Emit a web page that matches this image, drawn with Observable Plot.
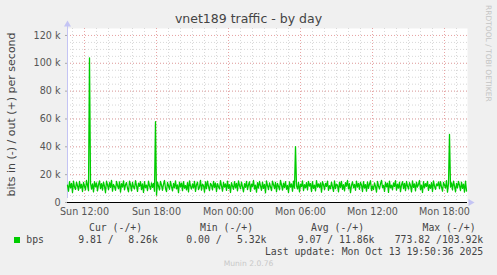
<!DOCTYPE html>
<html>
<head>
<meta charset="utf-8">
<script src="https://cdn.jsdelivr.net/npm/d3@7"></script>
<script src="https://cdn.jsdelivr.net/npm/@observablehq/plot@0.6"></script>
<style>
html, body { margin: 0; padding: 0; background: #f0f0f0; }
#wrap { position: relative; width: 497px; height: 275px; overflow: hidden; background: #f0f0f0; font-family: "DejaVu Sans", sans-serif; }
#wrap svg { position: absolute; left: 0; top: 0; }
.abs { position: absolute; white-space: pre; }
#title { left: 0; width: 497px; top: 11px; text-align: center; font-size: 12.5px; line-height: 16px; color: #444; }
#ylab { left: -89px; width: 200px; top: 108px; text-align: center; font-size: 11px; line-height: 13px; color: #444; transform: rotate(-90deg); transform-origin: 50% 50%; }
#wm { left: 484px; top: 5px; writing-mode: vertical-rl; font-size: 7.5px; line-height: 9px; color: #c4c4c4; }
.mono { font-family: "DejaVu Sans Mono", monospace; font-size: 9.8px; line-height: 12px; color: #444; }
#sq { left: 14px; top: 237px; width: 6px; height: 6px; background: #00cc00; }
#munin { left: 0; width: 497px; top: 259px; text-align: center; font-size: 7.6px; line-height: 10px; color: #c8c8c8; }
</style>
</head>
<body>
<div id="wrap">
  <div id="chart"></div>
</div>
<script>
// ---- data (values in k bits/s, one sample per 5 minutes from Sun 10:35 UTC) ----
const seriesName = "bps";
const startISO = "2025-10-12T10:35:00Z";
const endISO = "2025-10-13T19:55:00Z";
const stepMinutes = 5;
const outK = [
  12.4, 8.1, 14.9, 10.6, 13.8, 7.2, 15.3, 11.1, 9.4, 14.6, 12.0, 8.8,
  15.2, 10.4, 13.1, 7.9, 14.4, 11.7, 9.0, 15.8, 12.3, 8.5, 103.92, 14.0,
  9.6, 13.4, 7.6, 15.0, 11.2, 14.1, 8.3, 12.8, 15.5, 10.0, 13.6, 8.9,
  14.7, 11.5, 7.0, 15.4, 12.6, 9.3, 14.2, 10.8, 15.9, 8.2, 13.0, 11.4,
  8.7, 15.1, 12.2, 9.9, 14.8, 7.5, 13.5, 11.0, 15.6, 9.1, 12.7, 14.3,
  10.2, 7.7, 15.3, 12.9, 8.4, 14.5, 11.3, 9.7, 15.7, 12.1, 8.0, 13.9,
  11.6, 15.0, 9.2, 13.3, 7.3, 14.9, 10.7, 12.5, 8.6, 15.4, 11.9, 9.5,
  14.1, 10.9, 13.7, 8.1, 58.0, 5.32, 14.6, 11.8, 9.0, 15.2, 12.4, 8.8,
  13.2, 15.8, 10.1, 7.8, 14.4, 12.0, 9.4, 15.1, 11.5, 8.3, 13.8, 10.6,
  15.5, 9.8, 12.6, 7.1, 14.7, 11.2, 13.9, 8.5, 15.0, 10.3, 12.2, 9.1,
  14.3, 7.6, 15.6, 11.7, 9.6, 13.4, 10.5, 15.2, 8.0, 12.8, 14.6, 9.3,
  11.0, 15.9, 8.9, 13.1, 12.3, 7.4, 14.8, 10.0, 15.3, 11.6, 8.6, 13.7,
  12.5, 9.0, 15.1, 10.8, 14.0, 7.9, 13.6, 11.4, 9.7, 15.7, 12.0, 8.2,
  14.5, 11.1, 13.3, 8.7, 15.4, 10.2, 12.9, 7.2, 14.2, 11.8, 9.4, 15.0,
  10.6, 13.8, 8.4, 15.6, 12.1, 9.9, 14.7, 11.3, 7.7, 13.5, 10.9, 15.2,
  9.2, 12.7, 14.9, 8.0, 13.2, 11.5, 15.8, 9.6, 12.4, 7.5, 14.3, 10.4,
  15.1, 11.9, 8.8, 14.6, 10.1, 13.0, 7.0, 15.5, 12.2, 9.3, 14.0, 11.2,
  8.5, 15.3, 12.8, 10.0, 14.4, 7.8, 13.7, 11.6, 9.1, 15.9, 12.6, 8.9,
  13.9, 10.7, 15.0, 9.5, 12.3, 7.3, 14.8, 11.0, 13.4, 8.1, 15.4, 10.3,
  40.2, 12.0, 9.7, 14.5, 7.6, 13.1, 11.4, 15.6, 8.6, 12.9, 10.5, 14.2,
  9.0, 15.2, 11.8, 13.6, 7.9, 14.9, 10.2, 12.5, 8.3, 15.7, 11.1, 13.3,
  10.8, 14.1, 7.4, 15.0, 12.7, 9.2, 13.8, 11.5, 15.3, 8.7, 12.1, 9.9,
  14.6, 11.3, 8.0, 15.5, 10.0, 13.2, 12.4, 7.7, 14.7, 10.9, 15.1, 9.4,
  12.8, 8.4, 14.3, 11.7, 15.8, 9.8, 13.5, 7.1, 12.2, 14.9, 10.6, 13.0,
  8.8, 15.4, 11.0, 13.7, 9.5, 14.4, 12.6, 7.9, 15.0, 10.4, 12.9, 8.2,
  14.8, 10.1, 13.3, 15.6, 8.6, 12.0, 9.3, 14.1, 11.6, 7.5, 15.2, 11.9,
  9.7, 13.6, 15.9, 10.7, 12.3, 8.0, 14.5, 11.2, 13.9, 7.3, 15.3, 10.5,
  12.5, 9.1, 14.0, 11.4, 15.7, 8.9, 13.1, 10.3, 14.6, 7.8, 12.7, 15.0,
  10.0, 13.8, 8.5, 15.1, 11.8, 9.6, 14.3, 12.2, 7.6, 15.5, 10.8, 13.4,
  8.3, 14.7, 11.1, 13.0, 15.8, 9.2, 12.4, 7.2, 14.9, 10.6, 13.6, 11.5,
  15.2, 8.7, 12.9, 10.2, 14.2, 7.9, 15.6, 11.7, 9.4, 13.3, 12.0, 14.8,
  9.9, 15.0, 11.3, 8.1, 14.4, 12.6, 10.4, 15.7, 7.4, 13.5, 48.9, 11.0,
  14.1, 9.0, 15.3, 11.9, 7.7, 13.8, 10.5, 15.1, 12.3, 8.6, 14.6, 10.1,
  13.2, 7.5, 15.4, 8.26
];
const yTicks = [0, 20000, 40000, 60000, 80000, 100000, 120000];
const xTicksISO = ["2025-10-12T12:00:00Z", "2025-10-12T18:00:00Z", "2025-10-13T00:00:00Z",
                   "2025-10-13T06:00:00Z", "2025-10-13T12:00:00Z", "2025-10-13T18:00:00Z"];
const legendHeaders = ["Cur (-/+)", "Min (-/+)", "Avg (-/+)", "Max (-/+)"];
const legendValues = [["9.81 /", "8.26k"], ["0.00 /", "5.32k"], ["", "9.07 / 11.86k"], ["", "773.82 /103.92k"]];
const lastUpdate = "Last update: Mon Oct 13 19:50:36 2025";
const titleText = "vnet189 traffic - by day";
const yLabelText = "bits in (-) / out (+) per second";
const watermark = "RRDTOOL / TOBI OETIKER";
const muninVersion = "Munin 2.0.76";

// ---- build ----
const start = new Date(startISO);
const end = new Date(endISO);
const data = outK.map((v, i) => ({ t: new Date(start.getTime() + i * stepMinutes * 60000), v: v * 1000 }));
const xTicks = xTicksISO.map(s => new Date(s));
const minorX = d3.utcHour.range(start, end);
const minorY = d3.range(0, 120001, 5000);

const chart = Plot.plot({
  width: 497,
  height: 225,
  marginLeft: 67,
  marginRight: 30,
  marginTop: 28,
  marginBottom: 23,
  style: { fontFamily: "DejaVu Sans", fontSize: "9.6px", color: "#555", background: "transparent", overflow: "visible" },
  x: { type: "utc", domain: [start, end] },
  y: { domain: [0, 125000] },
  marks: [
    Plot.frame({ fill: "white", stroke: null }),
    Plot.ruleX(minorX, { stroke: "#d8d8d8", strokeDasharray: "1,2" }),
    Plot.ruleY(minorY, { stroke: "#d8d8d8", strokeDasharray: "1,2" }),
    Plot.ruleX(xTicks, { stroke: "#e8a4a4", strokeDasharray: "1,2" }),
    Plot.ruleY(yTicks, { stroke: "#e8a4a4", strokeDasharray: "1,2" }),
    Plot.axisY({ ticks: yTicks, tickFormat: d => d === 0 ? "0" : (d / 1000) + " k", tickSize: 2, tickPadding: 5, label: null, stroke: "#aaa" }),
    Plot.axisX({ ticks: xTicks, tickFormat: d3.utcFormat("%a %H:%M"), tickSize: 0, tickPadding: 6, label: null }),
    Plot.ruleX([start], { stroke: "#c4c4f4", y1: 0, y2: 125000, dy: -4 }),
    Plot.lineY(data, { x: "t", y: "v", stroke: "#00cc00", strokeWidth: 1.3 }),
    Plot.ruleY([0], { stroke: "#000", strokeWidth: 1 }),
    Plot.dot([0], { frameAnchor: "top-left", symbol: "triangle", r: 2.6, fill: "#c4c4f4", stroke: null, dy: -4 }),
    Plot.dot([0], { frameAnchor: "bottom-right", symbol: "triangle", r: 2.6, fill: "#c4c4f4", stroke: null, rotate: 90, dx: 3 })
  ]
});

const wrap = document.getElementById("wrap");
document.getElementById("chart").appendChild(chart);

function addDiv(cls, id, text, style) {
  const d = document.createElement("div");
  d.className = cls;
  if (id) d.id = id;
  d.textContent = text;
  if (style) Object.assign(d.style, style);
  wrap.appendChild(d);
  return d;
}
addDiv("abs", "title", titleText);
addDiv("abs", "ylab", yLabelText);
addDiv("abs", "wm", watermark);
addDiv("abs", "munin", muninVersion);
const sq = addDiv("abs", "sq", "");

const headerLeft = [89, 200, 311, 422.5];
legendHeaders.forEach((h, i) => addDiv("abs mono", null, h, { left: headerLeft[i] + "px", top: "221.5px" }));
addDiv("abs mono", null, seriesName, { left: "26.3px", top: "233.5px" });
const valueLeftA = [78.3, 186.3];
const valueRight = [157.8, 266.5, 374.5, 483.2];
legendValues.forEach((pair, i) => {
  if (pair[0]) addDiv("abs mono", null, pair[0], { left: valueLeftA[i] + "px", top: "233.5px" });
  addDiv("abs mono", null, pair[1], { right: (497 - valueRight[i]) + "px", top: "233.5px" });
});
addDiv("abs mono", null, lastUpdate, { right: (497 - 483.2) + "px", top: "245.8px" });
</script>
</body>
</html>
